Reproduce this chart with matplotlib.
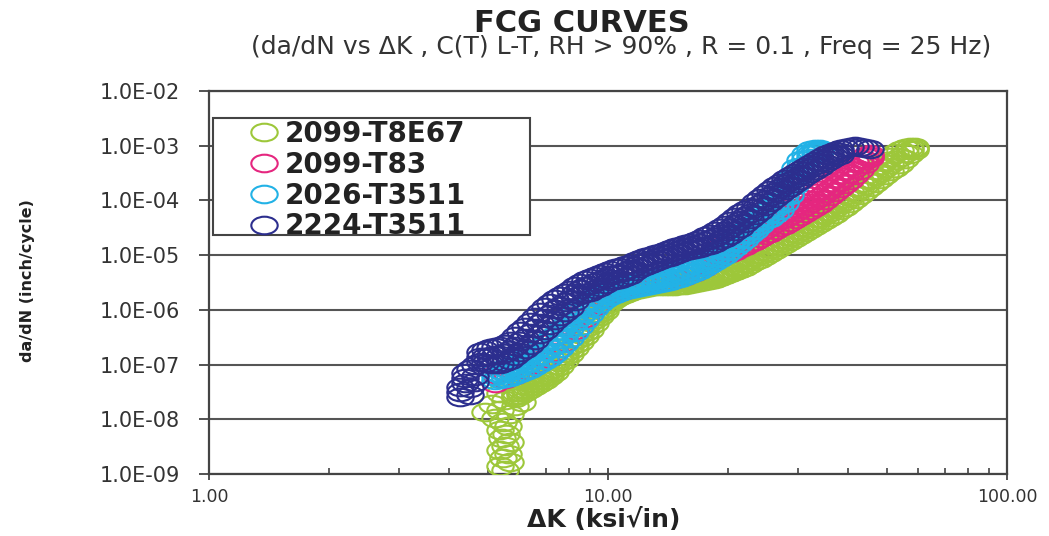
import numpy as np
import matplotlib
matplotlib.use('Agg')
import matplotlib.pyplot as plt
from matplotlib.path import Path
from matplotlib.patches import Rectangle
from matplotlib.ticker import FixedLocator, LogLocator, NullFormatter

# ---- FCG data: delta K (ksi*sqrt(in)), da/dN (inch/cycle) ----
# bands list several da/dN readings (upper / middle / lower scatter) per delta K

# 2099-T8E67: threshold column near 5.5 ksi*sqrt(in), then the band
k_t8e67_thr = [5.519, 5.362, 5.680, 5.456, 5.615, 5.362, 5.519, 5.680, 5.424, 5.551, 5.362, 5.615,
               5.456, 5.209, 5.680, 4.917, 5.362, 5.847, 5.120, 5.519, 5.847, 5.362, 6.088, 6.018]
dadn_t8e67_thr = [1.17e-9, 1.39e-9, 1.646e-9, 1.948e-9, 2.299e-9, 2.72e-9, 3.222e-9, 3.815e-9,
                  4.513e-9, 5.341e-9, 6.32e-9, 7.479e-9, 8.853e-9, 1.048e-8, 1.24e-8, 1.349e-8,
                  1.467e-8, 1.736e-8, 1.89e-8, 2.236e-8, 2.646e-8, 3.003e-8, 2.056e-8, 3.132e-8]
k_t8e67 = [5.847, 6.018, 6.194, 6.375, 6.562, 6.754, 6.952, 7.155, 7.365, 7.580,
           7.802, 8.031, 8.266, 8.508, 8.757, 9.013, 9.277, 9.549, 9.828, 10.12,
           10.41, 10.72, 11.03, 11.35, 11.69, 12.03, 12.38, 12.74, 13.12, 13.50,
           13.89, 14.30, 14.72, 15.15, 15.59, 16.05, 16.52, 17.00, 17.50, 18.01,
           18.54, 19.08, 19.64, 20.22, 20.81, 21.42, 22.04, 22.69, 23.35, 24.04,
           24.74, 25.47, 26.21, 26.98, 27.77, 28.58, 29.42, 30.28, 31.17, 32.08,
           33.02, 33.98, 34.98, 36.00, 37.06, 38.14, 39.26, 40.41, 41.59, 42.81,
           44.06, 45.35, 46.68, 48.04, 49.45, 50.90, 52.39, 53.92, 55.50, 57.12,
           58.80]
dadn_t8e67_hi = [3.132e-8, 3.554e-8, 4.032e-8, 4.575e-8, 5.191e-8, 5.89e-8, 6.684e-8, 7.909e-8, 9.762e-8, 1.257e-7,
                 1.618e-7, 2.173e-7, 2.797e-7, 3.602e-7, 4.637e-7, 5.970e-7, 7.686e-7, 9.895e-7, 1.221e-6, 1.64e-6,
                 1.861e-6, 2.112e-6, 2.297e-6, 2.499e-6, 2.606e-6, 2.718e-6, 2.835e-6, 2.958e-6, 3.085e-6, 3.085e-6,
                 3.218e-6, 3.218e-6, 3.356e-6, 3.5e-6, 3.5e-6, 3.651e-6, 3.808e-6, 3.971e-6, 4.142e-6, 4.32e-6,
                 4.506e-6, 4.700e-6, 5.112e-6, 5.562e-6, 6.311e-6, 7.161e-6, 8.124e-6, 9.221e-6, 1.046e-5, 1.187e-5,
                 1.347e-5, 1.528e-5, 1.734e-5, 1.967e-5, 2.232e-5, 2.532e-5, 2.873e-5, 3.261e-5, 3.7e-5, 4.198e-5,
                 4.763e-5, 5.637e-5, 6.395e-5, 7.569e-5, 8.955e-5, 1.06e-4, 1.254e-4, 1.484e-4, 1.757e-4, 2.079e-4,
                 2.461e-4, 3.037e-4, 3.594e-4, 4.437e-4, 5.251e-4, 6.215e-4, 7.354e-4, 8.344e-4, 9.078e-4, 9.469e-4,
                 9.469e-4]
dadn_t8e67_mid = [2.76e-8, 3.132e-8, 3.554e-8, 4.032e-8, 4.575e-8, 5.191e-8, 5.89e-8, 6.971e-8, 8.604e-8, 1.108e-7,
                  1.426e-7, 1.836e-7, 2.364e-7, 3.043e-7, 3.918e-7, 5.044e-7, 6.774e-7, 8.722e-7, 1.076e-6, 1.508e-6,
                  1.711e-6, 1.941e-6, 2.112e-6, 2.297e-6, 2.499e-6, 2.606e-6, 2.718e-6, 2.835e-6, 2.958e-6, 2.958e-6,
                  2.958e-6, 2.958e-6, 3.085e-6, 3.218e-6, 3.218e-6, 3.356e-6, 3.5e-6, 3.651e-6, 3.808e-6, 3.971e-6,
                  4.142e-6, 4.32e-6, 4.700e-6, 5.112e-6, 5.801e-6, 6.311e-6, 7.161e-6, 8.124e-6, 9.221e-6, 1.003e-5,
                  1.138e-5, 1.291e-5, 1.465e-5, 1.662e-5, 1.886e-5, 2.14e-5, 2.428e-5, 2.755e-5, 3.126e-5, 3.547e-5,
                  4.025e-5, 4.763e-5, 5.404e-5, 6.132e-5, 7.257e-5, 8.586e-5, 9.741e-5, 1.153e-4, 1.364e-4, 1.615e-4,
                  1.911e-4, 2.359e-4, 2.792e-4, 3.304e-4, 3.911e-4, 4.629e-4, 5.477e-4, 6.215e-4, 7.354e-4, 8.344e-4,
                  9.078e-4]
dadn_t8e67_lo = [2.433e-8, 2.76e-8, 3.132e-8, 3.554e-8, 4.032e-8, 4.575e-8, 5.191e-8, 6.143e-8, 7.271e-8, 9.36e-8,
                 1.205e-7, 1.552e-7, 1.997e-7, 2.571e-7, 3.311e-7, 4.262e-7, 5.724e-7, 7.686e-7, 9.487e-7, 1.329e-6,
                 1.573e-6, 1.784e-6, 1.941e-6, 2.112e-6, 2.297e-6, 2.396e-6, 2.499e-6, 2.606e-6, 2.718e-6, 2.718e-6,
                 2.718e-6, 2.718e-6, 2.718e-6, 2.835e-6, 2.835e-6, 2.958e-6, 3.085e-6, 3.218e-6, 3.356e-6, 3.5e-6,
                 3.651e-6, 3.971e-6, 4.32e-6, 4.700e-6, 5.112e-6, 5.562e-6, 6.051e-6, 6.866e-6, 7.789e-6, 8.476e-6,
                 9.617e-6, 1.091e-5, 1.238e-5, 1.405e-5, 1.594e-5, 1.808e-5, 2.052e-5, 2.328e-5, 2.641e-5, 2.998e-5,
                 3.401e-5, 3.859e-5, 4.378e-5, 4.968e-5, 5.637e-5, 6.67e-5, 7.569e-5, 8.955e-5, 1.06e-4, 1.254e-4,
                 1.484e-4, 1.757e-4, 2.079e-4, 2.461e-4, 2.912e-4, 3.446e-4, 3.911e-4, 4.629e-4, 5.713e-4, 7.052e-4,
                 8.344e-4]

# 2099-T83 (first 23 readings lie under the other bands)
k_t83 = [5.209, 5.519, 5.847, 6.194, 6.562, 6.952, 7.365, 7.802, 8.266, 8.757,
         9.277, 9.828, 10.41, 11.03, 11.69, 12.38, 13.12, 13.89, 14.72, 15.59,
         16.52, 17.50, 18.54,
         19.08, 19.64, 20.22, 20.81, 21.42, 22.04, 22.69, 23.35, 24.04, 24.74,
         25.47, 26.21, 26.98, 27.77, 28.58, 29.42, 30.28, 31.17, 32.08, 33.02,
         33.98, 34.98, 36.00, 37.06, 38.14, 39.26, 40.41, 41.59, 42.81, 44.06,
         45.35]
dadn_t83_hi = [6.684e-8, 7.583e-8, 9.36e-8, 1.205e-7, 1.688e-7, 2.364e-7, 3.311e-7, 5.044e-7, 8.362e-7, 1.221e-6,
               1.711e-6, 2.202e-6, 2.606e-6, 2.958e-6, 3.218e-6, 3.5e-6, 3.808e-6, 4.142e-6, 4.700e-6, 5.562e-6,
               6.582e-6, 8.124e-6, 1.046e-5,
               1.405e-5, 1.528e-5, 1.734e-5, 1.967e-5, 2.232e-5, 2.532e-5, 2.873e-5, 3.126e-5, 3.401e-5, 3.859e-5,
               4.378e-5, 4.968e-5, 5.637e-5, 6.395e-5, 7.257e-5, 8.233e-5, 9.34e-5, 1.06e-4, 1.202e-4, 1.364e-4,
               1.548e-4, 1.832e-4, 2.169e-4, 2.567e-4, 3.037e-4, 3.594e-4, 4.254e-4, 5.035e-4, 5.713e-4, 6.482e-4,
               7.052e-4]
dadn_t83_lo = [4.575e-8, 5.415e-8, 6.407e-8, 7.909e-8, 1.018e-7, 1.311e-7, 1.688e-7, 2.571e-7, 4.262e-7, 7.065e-7,
               1.171e-6, 1.64e-6, 2.025e-6, 2.297e-6, 2.606e-6, 2.835e-6, 3.085e-6, 3.356e-6, 3.651e-6, 4.142e-6,
               4.902e-6, 6.051e-6, 8.124e-6,
               1.003e-5, 1.046e-5, 1.091e-5, 1.187e-5, 1.347e-5, 1.465e-5, 1.662e-5, 1.808e-5, 2.052e-5, 2.328e-5,
               2.532e-5, 2.873e-5, 3.261e-5, 3.547e-5, 4.025e-5, 4.567e-5, 5.181e-5, 5.879e-5, 6.67e-5, 7.569e-5,
               8.586e-5, 1.016e-4, 1.202e-4, 1.423e-4, 1.684e-4, 1.994e-4, 2.359e-4, 2.912e-4, 3.594e-4, 4.629e-4,
               5.958e-4]
k_t83_mid = k_t83[23:]
dadn_t83_mid = [1.187e-5, 1.291e-5, 1.405e-5, 1.528e-5, 1.734e-5, 1.967e-5, 2.232e-5, 2.428e-5, 2.641e-5, 2.998e-5,
                3.401e-5, 3.859e-5, 4.378e-5, 4.763e-5, 5.404e-5, 6.132e-5, 6.958e-5, 7.894e-5, 8.955e-5, 1.016e-4,
                1.153e-4, 1.364e-4, 1.615e-4, 1.911e-4, 2.262e-4, 2.677e-4, 3.168e-4, 3.911e-4, 4.629e-4, 5.477e-4,
                6.482e-4]

# 2026-T3511
k_2026 = [5.209, 5.362, 5.519, 5.680, 5.847, 6.018, 6.194, 6.375, 6.562, 6.754,
          6.952, 7.155, 7.365, 7.580, 7.802, 8.031, 8.266, 8.508, 8.757, 9.013,
          9.277, 9.549, 9.828, 10.12, 10.41, 10.72, 11.03, 11.35, 11.69, 12.03,
          12.38, 12.74, 13.12, 13.50, 13.89, 14.30, 14.72, 15.15, 15.59, 16.05,
          16.52, 17.00, 17.50, 18.01, 18.54, 19.08, 19.64, 20.22, 20.81, 21.42,
          22.04, 22.69, 23.35, 24.04, 24.74, 25.47, 26.21, 26.98, 27.77, 28.58,
          29.42, 30.28, 31.17, 32.08, 33.02, 33.98]
dadn_2026_hi = [7.271e-8, 7.909e-8, 8.604e-8, 9.36e-8, 1.018e-7, 1.155e-7, 1.311e-7, 1.487e-7, 1.760e-7, 2.083e-7,
                2.465e-7, 2.918e-7, 3.453e-7, 4.262e-7, 5.261e-7, 6.774e-7, 8.722e-7, 1.076e-6, 1.274e-6, 1.508e-6,
                1.784e-6, 2.025e-6, 2.297e-6, 2.499e-6, 2.718e-6, 2.958e-6, 3.085e-6, 3.218e-6, 3.356e-6, 3.5e-6,
                3.651e-6, 3.808e-6, 3.971e-6, 4.142e-6, 4.32e-6, 4.506e-6, 4.902e-6, 5.332e-6, 5.801e-6, 6.311e-6,
                6.866e-6, 7.468e-6, 8.476e-6, 9.617e-6, 1.091e-5, 1.238e-5, 1.465e-5, 1.734e-5, 2.052e-5, 2.428e-5,
                2.873e-5, 3.401e-5, 4.025e-5, 4.968e-5, 6.132e-5, 7.257e-5, 8.955e-5, 1.202e-4, 1.684e-4, 2.567e-4,
                3.911e-4, 5.477e-4, 7.052e-4, 8.344e-4, 8.705e-4, 8.705e-4]
dadn_2026_mid = [6.143e-8, 6.684e-8, 6.971e-8, 7.583e-8, 8.25e-8, 8.974e-8, 1.018e-7, 1.108e-7, 1.311e-7, 1.487e-7,
                 1.760e-7, 1.997e-7, 2.364e-7, 2.918e-7, 3.602e-7, 4.637e-7, 5.970e-7, 7.369e-7, 9.097e-7, 1.122e-6,
                 1.386e-6, 1.64e-6, 1.941e-6, 2.112e-6, 2.297e-6, 2.499e-6, 2.718e-6, 2.835e-6, 2.958e-6, 3.085e-6,
                 3.218e-6, 3.356e-6, 3.5e-6, 3.651e-6, 3.808e-6, 3.971e-6, 4.32e-6, 4.506e-6, 4.902e-6, 5.332e-6,
                 5.801e-6, 6.311e-6, 7.161e-6, 8.124e-6, 9.221e-6, 1.046e-5, 1.238e-5, 1.465e-5, 1.734e-5, 2.052e-5,
                 2.428e-5, 2.873e-5, 3.401e-5, 4.198e-5, 5.181e-5, 5.879e-5, 7.257e-5, 8.955e-5, 1.254e-4, 1.832e-4,
                 2.792e-4, 4.079e-4, 5.713e-4, 7.052e-4, 8.0e-4, 8.344e-4]
dadn_2026_lo = [5.191e-8, 5.415e-8, 5.647e-8, 5.89e-8, 6.407e-8, 6.971e-8, 7.583e-8, 8.25e-8, 9.36e-8, 1.062e-7,
                1.205e-7, 1.367e-7, 1.618e-7, 1.997e-7, 2.465e-7, 3.043e-7, 3.918e-7, 5.044e-7, 6.494e-7, 8.362e-7,
                1.076e-6, 1.329e-6, 1.573e-6, 1.784e-6, 1.941e-6, 2.112e-6, 2.297e-6, 2.396e-6, 2.499e-6, 2.606e-6,
                2.718e-6, 2.835e-6, 2.958e-6, 3.085e-6, 3.218e-6, 3.356e-6, 3.651e-6, 3.808e-6, 4.142e-6, 4.506e-6,
                4.902e-6, 5.332e-6, 6.051e-6, 6.866e-6, 7.789e-6, 8.84e-6, 1.003e-5, 1.187e-5, 1.405e-5, 1.662e-5,
                1.967e-5, 2.428e-5, 2.873e-5, 3.547e-5, 4.378e-5, 4.763e-5, 5.637e-5, 6.67e-5, 8.955e-5, 1.254e-4,
                1.911e-4, 2.912e-4, 4.437e-4, 5.958e-4, 7.354e-4, 8.0e-4]

# 2224-T3511: near-threshold stack, band, final points
k_2224_thr = [4.257, 4.257, 4.257, 4.381, 4.381, 4.381, 4.510, 4.642, 4.510, 4.510, 4.642, 4.642]
dadn_2224_thr = [2.537e-8, 3.132e-8, 3.866e-8, 4.575e-8, 5.647e-8, 6.971e-8,
                 8.25e-8, 9.762e-8, 2.76e-8, 3.706e-8, 4.772e-8, 6.143e-8]
k_2224 = [4.777, 4.917, 5.061, 5.209, 5.362, 5.519, 5.680, 5.847, 6.018, 6.194,
          6.375, 6.562, 6.754, 6.952, 7.155, 7.365, 7.580, 7.802, 8.031, 8.266,
          8.508, 8.757, 9.013, 9.277, 9.549, 9.828, 10.12, 10.41, 10.72, 11.03,
          11.35, 11.69, 12.03, 12.38, 12.74, 13.12, 13.50, 13.89, 14.30, 14.72,
          15.15, 15.59, 16.05, 16.52, 17.00, 17.50, 18.01, 18.54, 19.08, 19.64,
          20.22, 20.81, 21.42, 22.04, 22.69, 23.35, 24.04, 24.74, 25.47, 26.21,
          26.98, 27.77, 28.58, 29.42, 30.28, 31.17, 32.08, 33.02, 33.98, 34.98,
          36.00, 37.06, 38.14]
dadn_2224_hi = [1.688e-7, 1.836e-7, 1.997e-7, 2.083e-7, 2.173e-7, 2.364e-7, 2.682e-7, 3.311e-7, 4.086e-7, 4.836e-7,
                5.970e-7, 7.369e-7, 9.097e-7, 1.122e-6, 1.329e-6, 1.573e-6, 1.784e-6, 2.025e-6, 2.297e-6, 2.718e-6,
                3.085e-6, 3.5e-6, 3.808e-6, 4.142e-6, 4.506e-6, 4.902e-6, 5.332e-6, 5.801e-6, 6.051e-6, 6.582e-6,
                6.866e-6, 7.789e-6, 8.476e-6, 9.221e-6, 9.617e-6, 1.046e-5, 1.091e-5, 1.187e-5, 1.291e-5, 1.405e-5,
                1.465e-5, 1.594e-5, 1.662e-5, 1.808e-5, 1.967e-5, 2.232e-5, 2.428e-5, 2.755e-5, 3.126e-5, 3.547e-5,
                4.198e-5, 4.968e-5, 5.879e-5, 6.67e-5, 7.569e-5, 9.34e-5, 1.105e-4, 1.308e-4, 1.548e-4, 1.832e-4,
                2.079e-4, 2.461e-4, 2.792e-4, 3.168e-4, 3.594e-4, 4.079e-4, 4.629e-4, 5.251e-4, 5.958e-4, 6.76e-4,
                7.354e-4, 8.0e-4, 8.705e-4]
dadn_2224_mid = [1.367e-7, 1.367e-7, 1.426e-7, 1.487e-7, 1.487e-7, 1.618e-7, 1.836e-7, 2.173e-7, 2.682e-7, 3.043e-7,
                 3.757e-7, 4.637e-7, 5.724e-7, 7.065e-7, 8.362e-7, 1.032e-6, 1.171e-6, 1.386e-6, 1.573e-6, 2.025e-6,
                 2.396e-6, 2.718e-6, 2.835e-6, 3.218e-6, 3.5e-6, 3.808e-6, 4.32e-6, 4.506e-6, 4.700e-6, 5.112e-6,
                 5.562e-6, 6.311e-6, 7.161e-6, 7.789e-6, 8.124e-6, 8.84e-6, 9.617e-6, 1.046e-5, 1.091e-5, 1.187e-5,
                 1.291e-5, 1.405e-5, 1.465e-5, 1.528e-5, 1.662e-5, 1.808e-5, 1.967e-5, 2.14e-5, 2.428e-5, 2.755e-5,
                 3.126e-5, 3.7e-5, 4.378e-5, 5.181e-5, 5.879e-5, 7.257e-5, 8.586e-5, 1.016e-4, 1.202e-4, 1.423e-4,
                 1.684e-4, 1.994e-4, 2.262e-4, 2.567e-4, 2.912e-4, 3.446e-4, 3.911e-4, 4.437e-4, 5.035e-4, 5.713e-4,
                 6.482e-4, 7.052e-4, 7.671e-4]
dadn_2224_lo = [1.108e-7, 1.062e-7, 1.018e-7, 1.018e-7, 1.018e-7, 1.108e-7, 1.205e-7, 1.426e-7, 1.688e-7, 1.915e-7,
                2.266e-7, 2.797e-7, 3.602e-7, 4.262e-7, 5.261e-7, 6.494e-7, 7.686e-7, 9.097e-7, 1.076e-6, 1.446e-6,
                1.861e-6, 2.025e-6, 2.112e-6, 2.396e-6, 2.606e-6, 2.958e-6, 3.356e-6, 3.5e-6, 3.651e-6, 3.971e-6,
                4.32e-6, 5.112e-6, 5.801e-6, 6.311e-6, 6.866e-6, 7.468e-6, 8.124e-6, 8.84e-6, 9.221e-6, 1.003e-5,
                1.091e-5, 1.187e-5, 1.238e-5, 1.291e-5, 1.347e-5, 1.465e-5, 1.528e-5, 1.662e-5, 1.886e-5, 2.052e-5,
                2.328e-5, 2.755e-5, 3.126e-5, 3.859e-5, 4.567e-5, 5.404e-5, 6.395e-5, 7.894e-5, 9.34e-5, 1.105e-4,
                1.308e-4, 1.548e-4, 1.757e-4, 2.079e-4, 2.359e-4, 2.792e-4, 3.168e-4, 3.594e-4, 4.079e-4, 4.827e-4,
                5.477e-4, 6.215e-4, 6.76e-4]
k_2224_end = [39.26, 40.41, 41.59, 42.81, 44.06, 45.35]
dadn_2224_end = [9.078e-4, 9.469e-4, 9.876e-4, 9.469e-4, 9.078e-4, 8.705e-4]

labels = ['2099-T8E67', '2099-T83', '2026-T3511', '2224-T3511']
colors = ['#9DC73A', '#E5267F', '#22B2E6', '#2C2E8E']

y_ticks = [1e-9, 1e-8, 1e-7, 1e-6, 1e-5, 1e-4, 1e-3, 1e-2]
y_ticklabels = ['1.0E-09', '1.0E-08', '1.0E-07', '1.0E-06', '1.0E-05',
                '1.0E-04', '1.0E-03', '1.0E-02']
x_ticks = [1, 10, 100]
x_ticklabels = ['1.00', '10.00', '100.00']

# assemble each alloy's points
series = [
    (k_t8e67_thr + k_t8e67 * 3,
     dadn_t8e67_thr + dadn_t8e67_hi + dadn_t8e67_mid + dadn_t8e67_lo),
    (k_t83 + k_t83_mid + k_t83, dadn_t83_hi + dadn_t83_mid + dadn_t83_lo),
    (k_2026 * 3, dadn_2026_hi + dadn_2026_mid + dadn_2026_lo),
    (k_2224_thr + k_2224 * 3 + k_2224_end,
     dadn_2224_thr + dadn_2224_hi + dadn_2224_mid + dadn_2224_lo + dadn_2224_end),
]

# open marker, a bit wider than tall
circ = Path.unit_circle()
ellipse = Path(circ.vertices * np.array([1.5, 1.0]), circ.codes)

fig = plt.figure(figsize=(10.49, 5.36), dpi=100)
ax = fig.add_axes([0.1992, 0.1157, 0.7607, 0.7146])

handles = []
for i, (k, d) in enumerate(series):
    h, = ax.plot(k, d, linestyle='none', marker=ellipse, markersize=19,
                 markerfacecolor='none', markeredgecolor=colors[i], markeredgewidth=1.5,
                 label=labels[i], zorder=3 + i)
    handles.append(h)

ax.set_xscale('log')
ax.set_yscale('log')
ax.set_xlim(1, 100)
ax.set_ylim(1e-9, 1e-2)

ax.yaxis.set_major_locator(FixedLocator(y_ticks))
ax.set_yticklabels(y_ticklabels)
ax.yaxis.set_minor_formatter(NullFormatter())
ax.tick_params(axis='y', which='minor', left=False)
ax.xaxis.set_major_locator(FixedLocator(x_ticks))
ax.set_xticklabels(x_ticklabels)
ax.xaxis.set_minor_locator(LogLocator(base=10, subs=np.arange(2, 10)))
ax.xaxis.set_minor_formatter(NullFormatter())

ax.tick_params(axis='y', which='major', direction='out', length=7, width=1.3,
               color='#444444', labelsize=15, labelcolor='#333333', pad=14)
ax.tick_params(axis='x', which='major', direction='inout', length=8, width=1.3,
               color='#444444', labelsize=12.5, labelcolor='#333333', pad=6)
ax.tick_params(axis='x', which='minor', direction='in', length=4, width=1.2,
               color='#444444')

ax.grid(True, axis='y', which='major', color='#555555', linewidth=1.5)
ax.set_axisbelow(True)
for s in ax.spines.values():
    s.set_color('#444444')
    s.set_linewidth(1.6)

ax.set_xlabel('ΔK (ksi√in)', fontsize=18, fontweight='bold', color='#222222')
ax.xaxis.set_label_coords(0.495, -0.09)
ax.set_ylabel('da/dN (inch/cycle)', fontsize=11.5, fontweight='bold', color='#222222')
ax.yaxis.set_label_coords(-0.218, 0.504)

fig.text(0.555, 0.957, 'FCG CURVES', ha='center', va='center',
         fontsize=22, fontweight='bold', color='#222222')
fig.text(0.592, 0.912, '(da/dN vs ΔK , C(T) L-T, RH > 90% , R = 0.1 , Freq = 25 Hz)',
         ha='center', va='center', fontsize=18, color='#333333')

# legend box
box = Rectangle((213 / 1049, 1 - 235 / 536), 317 / 1049, 117 / 536,
                transform=fig.transFigure, facecolor='white', edgecolor='#444444',
                linewidth=1.5, zorder=9)
ax.add_patch(box)
leg = ax.legend(handles=handles, loc='upper left', bbox_to_anchor=(249 / 1049, 1 - 120 / 536),
                bbox_transform=fig.transFigure, frameon=False,
                prop={'size': 20, 'weight': 'bold'}, handlelength=1.08,
                handletextpad=0.22, labelspacing=0.1, borderpad=0.0,
                borderaxespad=0.0, markerscale=1.0)
leg.set_zorder(10)
for t in leg.get_texts():
    t.set_color('#222222')

fig.savefig('out.png', dpi=100, facecolor='white')
